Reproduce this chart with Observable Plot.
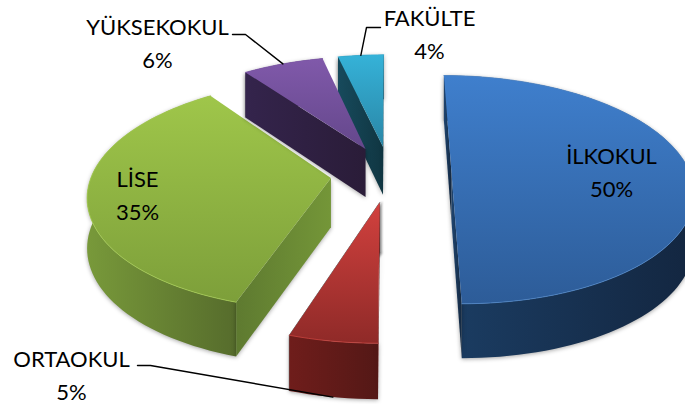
<!DOCTYPE html>
<html><head><meta charset="utf-8">
<script src="https://cdn.jsdelivr.net/npm/d3@7"></script>
<script src="https://cdn.jsdelivr.net/npm/@observablehq/plot@0.6"></script>
<style>html,body{margin:0;padding:0;background:#fff;overflow:hidden}svg{display:block}</style>
</head><body><div id="chart"></div>
<script>
const categories = ["İLKOKUL", "ORTAOKUL", "LİSE", "YÜKSEKOKUL", "FAKÜLTE"];
const shares = [50, 5, 35, 6.4, 3.6];
const explode = [0.26, 0.253, 0.247, 0.25, 0.25];
const palette = [
  {top: ["#3f7fcd", "#2d5c98"], rim: ["#1b3d63", "#132640"], cut: ["#1f4570", "#14283f"], hi: "#4d86c8"},
  {top: ["#d2413e", "#8f2a28"], rim: ["#6f1d1b", "#541816"], cut: ["#7a2220", "#5a1816"], hi: "#c9433f"},
  {top: ["#9fc64a", "#7d9f3a"], rim: ["#78993a", "#566c2c"], cut: ["#5e7a30", "#749638"], hi: "#a5cc52"},
  {top: ["#8059aa", "#64478b"], rim: ["#33234a", "#2e2040"], cut: ["#34244c", "#2a1c38"], hi: "#8059aa"},
  {top: ["#35b2d8", "#2a86a6"], rim: ["#164656", "#123a48"], cut: ["#174a5c", "#103642"], hi: "#35b2d8"}
];
// Perspective of the pie plane
const cam = {vx: 389, vy: -621, a: 5638, d: 7.1, f: 1695};
const lift = s => 17.4 + 0.04 * s;
const project = (X, Z, low = false) => {
  const s = cam.a / (cam.d + Z);
  const sx = cam.vx + cam.f * X / (cam.d + Z);
  const sy = cam.vy + s;
  return {x: sx, y: low ? sy + lift(s) : sy};
};
const area = pts => d3.sum(pts, (p, k) => {
  const q = pts[(k + 1) % pts.length];
  return p.x * q.y - q.x * p.y;
});
const arcs = d3.pie().sort(null).value(d => d).startAngle(0).endAngle(2 * Math.PI)(shares);
const slices = arcs.map((a, i) => {
  const mid = (a.startAngle + a.endAngle) / 2;
  const ox = explode[i] * Math.sin(mid), oz = explode[i] * Math.cos(mid);
  const n = Math.max(2, Math.ceil((a.endAngle - a.startAngle) / (Math.PI / 90)));
  const rimAt = (t, low) => project(ox + Math.sin(t), oz + Math.cos(t), low);
  const ts = d3.range(n + 1).map(k => a.startAngle + (a.endAngle - a.startAngle) * k / n);
  const apex = project(ox, oz), apexLow = project(ox, oz, true);
  const rimTop = ts.map(t => rimAt(t, false)), rimLow = ts.map(t => rimAt(t, true));
  const cutA = [apex, rimTop[0], rimLow[0], apexLow];
  const cutB = [apex, rimTop[n], rimLow[n], apexLow];
  const hidden = [], shown = [];
  (area(cutA) < 0 ? shown : hidden).push(cutA);
  (area(cutB) > 0 ? shown : hidden).push(cutB);
  return {i, mid, rimTop, rimAt, hidden, shown,
    top: [apex, ...rimTop],
    band: [...rimTop, ...rimLow.slice().reverse()]};
});

const grad = (id, stops, horizontal) => {
  const g = d3.create("svg:linearGradient").attr("id", id)
    .attr("x1", 0).attr("y1", 0).attr("x2", horizontal ? 1 : 0).attr("y2", horizontal ? 0 : 1);
  stops.forEach((c, k) => g.append("stop").attr("offset", k).attr("stop-color", c));
  return g.node();
};
const defs = () => {
  const d = d3.create("svg:defs");
  palette.forEach((p, i) => {
    d.append(() => grad(`top${i}`, p.top, false));
    d.append(() => grad(`rim${i}`, p.rim, true));
    d.append(() => grad(`cut${i}`, p.cut, true));
  });
  return d.node();
};
const shadow = "drop-shadow(0 1px 2px rgba(0,0,0,.35))";
const sliver = "drop-shadow(2px 0 1px rgba(0,0,0,.45))";
const slivered = new Set([1, 4]); // slices whose hidden upright face casts a thin shadow
const faceMarks = s => [
  ...(slivered.has(s.i) ? s.hidden.map(f => Plot.line(f, {x: "x", y: "y", fill: `url(#cut${s.i})`, stroke: "#777", strokeWidth: 1, imageFilter: sliver})) : []),
  Plot.line(s.band, {x: "x", y: "y", fill: `url(#rim${s.i})`, stroke: "none", imageFilter: shadow}),
  ...s.shown.map(f => Plot.line(f, {x: "x", y: "y", fill: `url(#cut${s.i})`, stroke: "none", imageFilter: shadow})),
  Plot.line(s.top, {x: "x", y: "y", fill: `url(#top${s.i})`, stroke: "none"}),
  Plot.line(s.rimTop, {x: "x", y: "y", stroke: palette[s.i].hi, strokeWidth: 1, strokeOpacity: 0.8})
];
// Painter's order: back slices first
const order = [4, 2, 3, 0, 1];

// Label layout (text centre, elbow of the leader)
const labelLayout = [
  {x: 611, y: 169},
  {x: 71, y: 372, elbow: [[137, 365], [150, 365]], low: true},
  {x: 137, y: 192},
  {x: 157, y: 40, elbow: [[232, 34], [245, 34]]},
  {x: 429, y: 31, elbow: [[380, 27], [366, 27]]}
];
const labels = categories.map((c, i) => ({
  ...labelLayout[i], text: `${c}\n${Math.round(shares[i])}%`
}));
const leaders = labelLayout.flatMap((l, i) => {
  if (!l.elbow) return [];
  const s = slices[i];
  const end = s.rimAt(s.mid, !!l.low);
  return [...l.elbow.map(([x, y]) => ({x, y, i})), {x: end.x, y: end.y, i}];
});

const chart = Plot.plot({
  width: 685, height: 404,
  marginTop: 0, marginRight: 0, marginBottom: 0, marginLeft: 0,
  x: {domain: [0, 685], range: [0, 685], axis: null},
  y: {domain: [0, 404], range: [0, 404], axis: null},
  style: {background: "#fff", overflow: "hidden"},
  marks: [
    defs,
    ...order.flatMap(i => faceMarks(slices[i])),
    Plot.line(leaders, {x: "x", y: "y", z: "i", stroke: "#000", strokeWidth: 1.4}),
    Plot.text(labels, {x: "x", y: "y", text: "text", fontFamily: "Lato", fontSize: 22, lineHeight: 1.5, fill: "#000", textAnchor: "middle"})
  ]
});
document.getElementById("chart").append(chart);
</script></body></html>
